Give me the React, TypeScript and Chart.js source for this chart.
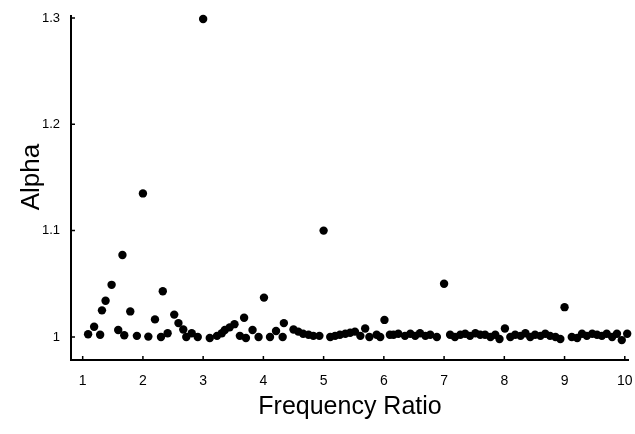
import { useEffect, useRef } from "react";
import { Chart, registerables } from "chart.js";

Chart.register(...registerables);

const frequencyRatio = [
  1.09, 1.19, 1.29, 1.32, 1.38, 1.48, 1.59, 1.66, 1.69, 1.79,
  1.9, 2.0, 2.09, 2.2, 2.3, 2.33, 2.41, 2.52, 2.59, 2.67,
  2.72, 2.81, 2.91, 3.0, 3.11, 3.23, 3.31, 3.36, 3.44, 3.52,
  3.61, 3.68, 3.71, 3.82, 3.92, 4.01, 4.11, 4.21, 4.32, 4.34,
  4.5, 4.58, 4.66, 4.75, 4.83, 4.93, 5.0, 5.11, 5.19, 5.27,
  5.36, 5.44, 5.52, 5.61, 5.69, 5.76, 5.88, 5.94, 6.01, 6.1,
  6.16, 6.24, 6.35, 6.44, 6.52, 6.6, 6.69, 6.77, 6.88, 7.0,
  7.1, 7.18, 7.27, 7.35, 7.43, 7.52, 7.6, 7.68, 7.77, 7.85,
  7.92, 8.01, 8.1, 8.18, 8.27, 8.35, 8.43, 8.51, 8.6, 8.68,
  8.76, 8.85, 8.93, 9.0, 9.12, 9.21, 9.29, 9.37, 9.46, 9.54,
  9.62, 9.7, 9.79, 9.87, 9.95, 10.04,
];

const alpha = [
  1.0025, 1.0096, 1.002, 1.025, 1.034, 1.049, 1.0065, 1.077, 1.0016, 1.024,
  1.001, 1.135, 1.0003, 1.0165, 1.0, 1.043, 1.0034, 1.021, 1.013, 1.007,
  1.0, 1.0035, 1.0, 1.299, 0.999, 1.001, 1.0035, 1.0065, 1.009, 1.012,
  1.001, 1.018, 0.999, 1.0065, 1.0, 1.037, 1.0, 1.0056, 1.0, 1.013,
  1.007, 1.005, 1.003, 1.002, 1.001, 1.001, 1.1, 1.0, 1.001, 1.002,
  1.003, 1.004, 1.005, 1.001, 1.008, 1.0, 1.002, 1.0, 1.016, 1.002,
  1.002, 1.003, 1.001, 1.003, 1.001, 1.0035, 1.001, 1.002, 1.0, 1.05,
  1.002, 1.0, 1.002, 1.003, 1.001, 1.0035, 1.002, 1.002, 1.0, 1.002,
  0.998, 1.008, 1.0, 1.002, 1.001, 1.0035, 1.0, 1.002, 1.001, 1.003,
  1.001, 1.0, 0.998, 1.028, 1.0, 0.999, 1.003, 1.001, 1.003, 1.002,
  1.001, 1.003, 1.0, 1.003, 0.997, 1.003,
];

const xTickValues = [1, 2, 3, 4, 5, 6, 7, 8, 9, 10];
const yTickValues = [1, 1.1, 1.2, 1.3];
const yTickLabels = ["1", "1.1", "1.2", "1.3"];

const FONT = "'Liberation Sans', Arial, Helvetica, sans-serif";

export default function App() {
  const ref = useRef<HTMLCanvasElement>(null);

  useEffect(() => {
    document.body.style.margin = "0";
    const canvas = ref.current;
    if (!canvas) return;

    const axesPlugin = {
      id: "axesPlugin",
      afterDraw(chart: any) {
        const { ctx, chartArea } = chart;
        const xs = chart.scales.x;
        const ys = chart.scales.y;
        ctx.save();
        ctx.strokeStyle = "#000";
        ctx.lineWidth = 2;
        ctx.beginPath();
        ctx.moveTo(chartArea.left, chartArea.top - 3);
        ctx.lineTo(chartArea.left, chartArea.bottom);
        ctx.lineTo(chartArea.right, chartArea.bottom);
        ctx.stroke();
        ctx.lineWidth = 1.5;
        ctx.beginPath();
        for (const v of xTickValues) {
          const px = xs.getPixelForValue(v);
          ctx.moveTo(px, chartArea.bottom);
          ctx.lineTo(px, chartArea.bottom - 4);
        }
        for (const v of yTickValues) {
          const py = ys.getPixelForValue(v);
          ctx.moveTo(chartArea.left, py);
          ctx.lineTo(chartArea.left + 4, py);
        }
        ctx.stroke();
        // y axis title
        ctx.fillStyle = "#000";
        ctx.font = `26px ${FONT}`;
        ctx.textAlign = "center";
        ctx.textBaseline = "middle";
        ctx.translate(chartArea.left - 39, (chartArea.top + chartArea.bottom) / 2 - 12);
        ctx.rotate(-Math.PI / 2);
        ctx.fillText("Alpha", 0, 0);
        ctx.restore();
      },
    };

    const chart = new Chart(canvas, {
      type: "scatter",
      data: {
        datasets: [
          {
            data: frequencyRatio.map((x, i) => ({ x, y: alpha[i] })),
            backgroundColor: "#000",
            borderWidth: 0,
            pointRadius: 4.2,
            pointHoverRadius: 4.2,
            clip: false,
          },
        ],
      },
      options: {
        animation: false,
        responsive: false,
        layout: { padding: { top: 18, right: 6, left: 0, bottom: 0 } },
        plugins: {
          legend: { display: false },
          tooltip: { enabled: false },
        },
        scales: {
          x: {
            type: "linear",
            min: 0.806,
            max: 10.07,
            afterBuildTicks: (s: any) => {
              s.ticks = xTickValues.map((v) => ({ value: v }));
            },
            afterFit: (s: any) => {
              s.height = 74;
              s.paddingLeft = 0;
              s.paddingRight = 0;
            },
            ticks: {
              callback: (v: any) => String(v),
              font: { family: FONT, size: 14 },
              color: "#000",
              padding: 13,
              maxRotation: 0,
              autoSkip: false,
            },
            grid: { display: false, drawTicks: false },
            border: { display: false },
            title: {
              display: true,
              text: "Frequency Ratio",
              font: { family: FONT, size: 25 },
              color: "#000",
              padding: { top: 0, bottom: 12 },
            },
          },
          y: {
            type: "linear",
            min: 0.9783,
            max: 1.3,
            afterBuildTicks: (s: any) => {
              s.ticks = yTickValues.map((v) => ({ value: v }));
            },
            afterFit: (s: any) => {
              s.width = 71;
              s.paddingTop = 0;
              s.paddingBottom = 0;
            },
            ticks: {
              callback: (v: any) => {
                const i = yTickValues.findIndex((t) => Math.abs(t - v) < 1e-6);
                return i >= 0 ? yTickLabels[i] : "";
              },
              font: { family: FONT, size: 13 },
              color: "#000",
              padding: 11,
              autoSkip: false,
            },
            grid: { display: false, drawTicks: false },
            border: { display: false },
          },
        },
      },
      plugins: [axesPlugin],
    });

    return () => chart.destroy();
  }, []);

  return <canvas ref={ref} width={635} height={434} style={{ display: "block" }} />;
}
